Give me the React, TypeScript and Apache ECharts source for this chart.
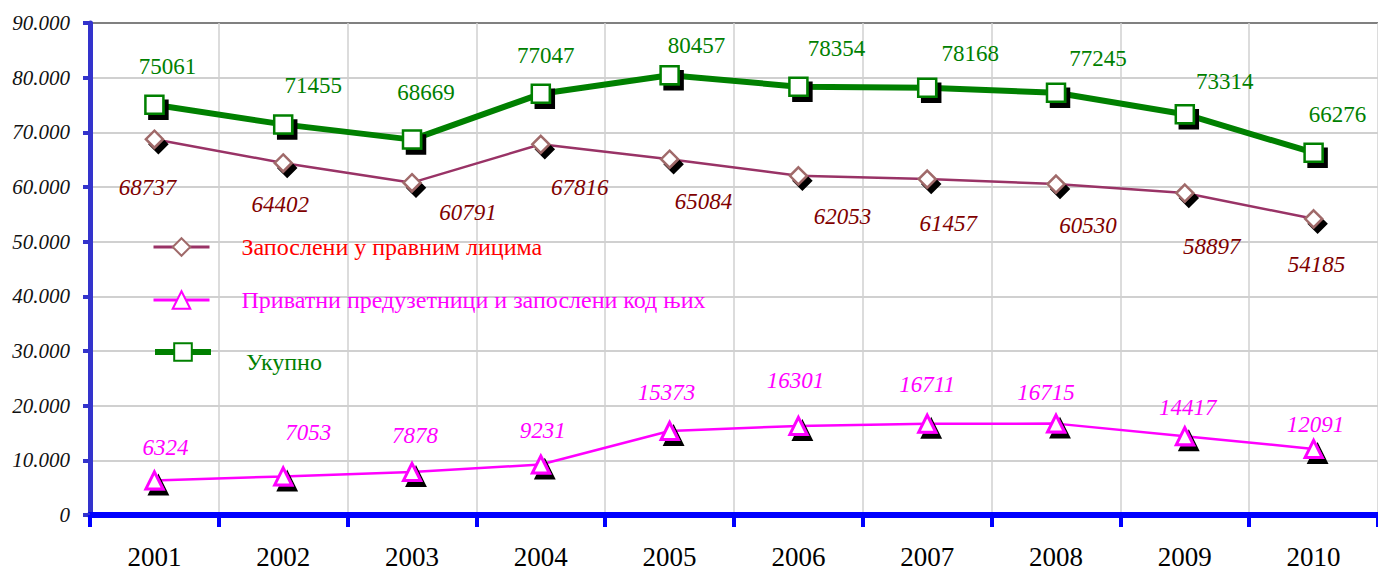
import React, { useEffect, useRef } from 'react';
import * as echarts from 'echarts';

const years = ['2001', '2002', '2003', '2004', '2005', '2006', '2007', '2008', '2009', '2010'];
const legalEntities = [68737, 64402, 60791, 67816, 65084, 62053, 61457, 60530, 58897, 54185];
const privateEntrepreneurs = [6324, 7053, 7878, 9231, 15373, 16301, 16711, 16715, 14417, 12091];
const totalEmployed = [75061, 71455, 68669, 77047, 80457, 78354, 78168, 77245, 73314, 66276];

const seriesNames = [
  'Запослени у правним лицима',
  'Приватни предузетници и запослени код њих',
  'Укупно',
];

// label placement (style only)
const legalLabelOffsets = [[-7, 48], [-3, 42], [56, 30], [39, 43], [34, 42], [44, 41], [21, 44], [32, 41], [27, 53], [3, 46]];
const privateLabelOffsets = [[11, -33], [25, -44], [3, -36], [2, -34], [-3, -38], [-3, -45], [0, -39], [-10, -31], [3, -29], [2, -24]];
const totalLabelOffsets = [[13, -38], [30, -39], [14, -47], [5, -38], [27, -30], [38, -38], [43, -34], [42, -34], [40, -33], [24, -38]];

const FONT = 'Liberation Serif';

function withOffsets(values: number[], offsets: number[][]) {
  return values.map((v, i) => ({ value: v, label: { offset: offsets[i] } }));
}

export default function App() {
  const ref = useRef<HTMLDivElement>(null);

  useEffect(() => {
    if (!ref.current) return;
    const chart = echarts.init(ref.current, undefined, { renderer: 'svg' });

    const shadow = { shadowColor: '#000', shadowBlur: 0, shadowOffsetX: 4, shadowOffsetY: 5 };
    const legendText = { fontFamily: FONT, fontSize: 24, lineHeight: 26 };
    const legendBase = {
      orient: 'vertical',
      left: 152,
      padding: 0,
      itemGap: 27,
      itemWidth: 56,
      itemHeight: 22,
      selectedMode: false,
      itemStyle: { shadowBlur: 0, shadowColor: 'rgba(0,0,0,0)', shadowOffsetX: 0, shadowOffsetY: 0 },
      textStyle: { ...legendText, padding: [0, 0, 0, 27] },
    };

    const option: any = {
      animation: false,
      backgroundColor: '#fff',
      textStyle: { fontFamily: FONT },
      grid: { left: 90, top: 23, width: 1293, height: 492, containLabel: false },
      xAxis: {
        type: 'category',
        data: years,
        boundaryGap: true,
        axisLine: { lineStyle: { color: '#0000ff', width: 6 } },
        axisTick: { show: true, length: 12, lineStyle: { color: '#0000ff', width: 4 } },
        axisLabel: { color: '#000', fontFamily: FONT, fontSize: 27, margin: 28 },
        splitLine: { show: true, lineStyle: { color: '#d0d0d0', width: 1.5 } },
        z: 3,
      },
      yAxis: {
        type: 'value',
        min: 0,
        max: 90000,
        interval: 10000,
        axisLine: { show: true, lineStyle: { color: '#3333cc', width: 5 } },
        axisTick: { show: true, length: 7, lineStyle: { color: '#3333cc', width: 4 } },
        axisLabel: {
          color: '#111',
          fontFamily: FONT,
          fontSize: 21,
          fontStyle: 'italic',
          margin: 20,
          formatter: (v: number) => (v === 0 ? '0' : v / 1000 + '.000'),
        },
        splitLine: {
          show: true,
          lineStyle: {
            color: ['#d0d0d0', '#d0d0d0', '#d0d0d0', '#d0d0d0', '#d0d0d0', '#d0d0d0', '#d0d0d0', '#d0d0d0', '#d0d0d0', '#808080'],
            width: 1.8,
          },
        },
        z: 3,
      },
      graphic: [
        { type: 'rect', z: 1, silent: true, shape: { x: 123, y: 223, width: 614, height: 50 }, style: { fill: '#fff' } },
        { type: 'rect', z: 1, silent: true, shape: { x: 740, y: 238, width: 98, height: 10 }, style: { fill: '#fff' } },
        { type: 'rect', z: 1, silent: true, shape: { x: 123, y: 275, width: 1084, height: 50 }, style: { fill: '#fff' } },
        { type: 'rect', z: 1, silent: true, shape: { x: 123, y: 337, width: 299, height: 42 }, style: { fill: '#fff' } },
      ],
      legend: [
        {
          ...legendBase,
          top: 234,
          data: [
            { name: seriesNames[0], lineStyle: { width: 3 }, textStyle: { ...legendText, color: '#ff0000', padding: [0, 0, 0, 27] } },
            { name: seriesNames[1], lineStyle: { width: 3 }, textStyle: { ...legendText, color: '#ff00ff', padding: [0, 0, 0, 27] } },
          ],
        },
        {
          ...legendBase,
          top: 329,
          formatter: (name: string) => '{pad| }\n{t|' + name + '}',
          data: [
            {
              name: seriesNames[2],
              lineStyle: { width: 6 },
              textStyle: {
                ...legendText,
                lineHeight: undefined,
                color: '#008000',
                padding: [0, 0, 0, 30],
                rich: {
                  pad: { fontSize: 10, lineHeight: 20 },
                  t: { fontFamily: FONT, fontSize: 24, lineHeight: 26, color: '#008000' },
                },
              },
            },
          ],
        },
      ],
      series: [
        {
          name: seriesNames[0],
          type: 'line',
          data: withOffsets(legalEntities, legalLabelOffsets),
          symbol: 'diamond',
          symbolSize: 17,
          lineStyle: { color: '#993366', width: 2.5 },
          itemStyle: { color: '#fff', borderColor: '#a06a6a', borderWidth: 2.5, ...shadow },
          label: {
            show: true,
            position: 'inside',
            color: '#800000',
            fontFamily: FONT,
            fontSize: 23,
            fontStyle: 'italic',
          },
          z: 4,
        },
        {
          name: seriesNames[1],
          type: 'line',
          data: withOffsets(privateEntrepreneurs, privateLabelOffsets),
          symbol: 'triangle',
          symbolSize: 17,
          lineStyle: { color: '#ff00ff', width: 2.5 },
          itemStyle: { color: '#fff', borderColor: '#ff00ff', borderWidth: 3, ...shadow },
          label: {
            show: true,
            position: 'inside',
            color: '#ff00ff',
            fontFamily: FONT,
            fontSize: 23,
            fontStyle: 'italic',
          },
          z: 4,
        },
        {
          name: seriesNames[2],
          type: 'line',
          data: withOffsets(totalEmployed, totalLabelOffsets),
          symbol: 'rect',
          symbolSize: 18,
          lineStyle: { color: '#008000', width: 6 },
          itemStyle: { color: '#fff', borderColor: '#008000', borderWidth: 2.5, ...shadow },
          label: {
            show: true,
            position: 'inside',
            color: '#008000',
            fontFamily: FONT,
            fontSize: 23,
          },
          z: 5,
        },
      ],
    };

    chart.setOption(option);
    return () => chart.dispose();
  }, []);

  return (
    <div
      ref={ref}
      style={{ position: 'absolute', left: 0, top: 0, width: 1378, height: 571, background: '#fff' }}
    />
  );
}
